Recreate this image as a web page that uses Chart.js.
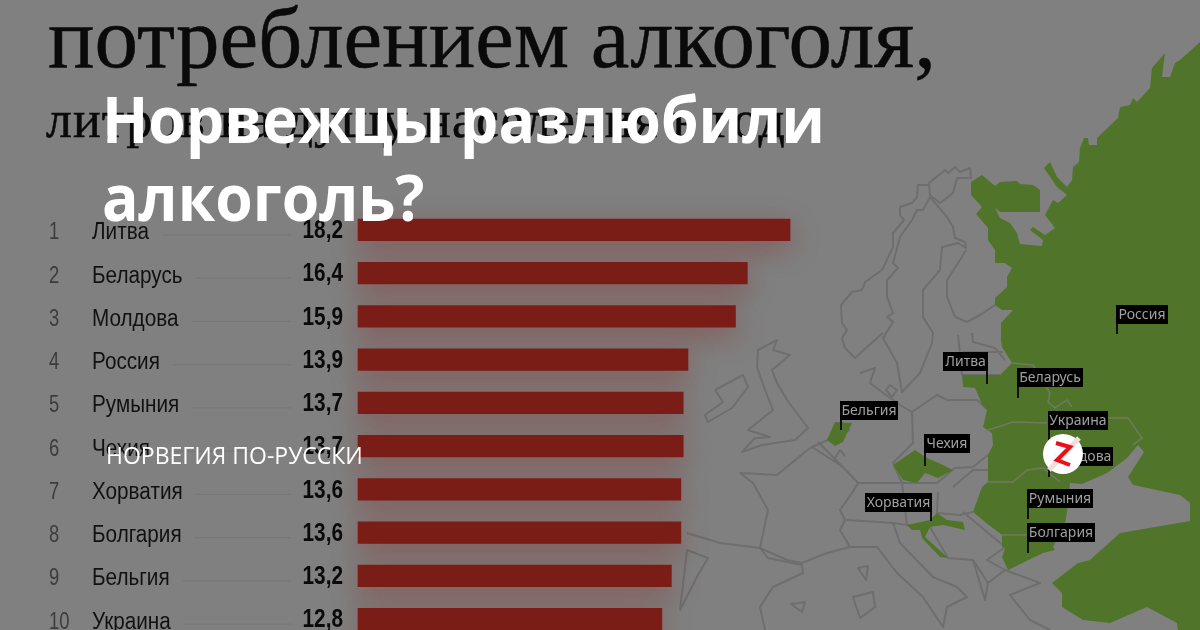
<!DOCTYPE html>
<html lang="ru">
<head>
<meta charset="utf-8">
<title>Норвежцы разлюбили алкоголь?</title>
<script src="https://cdn.jsdelivr.net/npm/chart.js@4"></script>
<style>
  html, body { margin: 0; padding: 0; background: #808080; }
  #stage { position: relative; width: 1200px; height: 630px; overflow: hidden; background: #808080; }
  #stage > * { position: absolute; }
  #map { left: 0; top: 0; }
  #grafico { left: 0; top: 0; }
  .fundo { font-family: "Liberation Serif", serif; color: #0a0a0a; white-space: nowrap; -webkit-text-stroke: 0.5px #0a0a0a; }
  .titulo { font-family: "Open Sans", sans-serif; font-weight: 700; font-size: 64px; line-height: 78px; color: #fff; white-space: nowrap; transform: scaleX(0.947); transform-origin: left top; }
  .marca { font-family: "Open Sans", sans-serif; font-size: 23px; line-height: 26px; color: #fff; white-space: nowrap; }
  .pin { background: #000; color: #a0a0a0; font: 14px/18px "Noto Sans", sans-serif; height: 19px; text-align: center; white-space: nowrap; }
  .pin::after { content: ""; position: absolute; top: 19px; width: 2px; background: #111; height: var(--haste); }
  .pin.esq::after { left: 0; }
  .pin.dir::after { right: 0; }
</style>
</head>
<body>
<div id="stage">
  <svg id="map" width="1200" height="630" viewBox="0 0 1200 630">
    <g fill="none" stroke="#6e6e6e" stroke-width="2" stroke-linejoin="round">
      <!-- Escandinávia -->
      <path d="M970 168L971 178L957 178L953 193L940 203L930 195L929 183L945 170L948 173L955 167L960 172Z"/>
      <path d="M929 185L918 185L917 197L912 203L900 207L900 215L904 220L893 233L893 247L882 270L865 282L862 290L852 292L841 305L842 323L847 330L842 338L845 348L855 358L867 347L883 333"/>
      <path d="M930 197L923 210L917 210L912 220L900 237L893 263L898 268L887 280L887 297L893 313L887 317L893 322L883 338L897 363L902 392L920 373L932 343L933 333L923 317L923 290L940 270L942 247L958 243L966 248L965 242L955 238L953 227L947 217L930 197"/>
      <path d="M966 250L960 260L947 280L947 297L955 317L967 322L980 315L995 305"/>
      <path d="M972 333L973 342L995 348L1005 360M958 335L962 375L1000 375M962 352L1003 352"/>
      <!-- Ilhas britânicas -->
      <path d="M758 350L777 340L773 350L790 355L772 370L777 383L787 400L808 428L795 440L762 445L742 452L755 438L770 437L748 430L773 410L765 390L757 367Z"/>
      <path d="M730 382L743 375L748 387L732 408L708 422L705 415L723 402L715 390Z"/>
      <!-- Europa continental -->
      <path d="M860 373L875 368L870 383L882 392L900 405L912 412L937 395L947 400L977 400L988 410"/>
      <path d="M890 385L897 390L892 397L886 390Z"/>
      <path d="M912 412L913 443L893 463L902 483L937 483L955 468L973 467L988 455M953 487L973 470L988 470M938 492L937 513L960 515L973 512"/>
      <path d="M740 473L777 475L805 452L812 447L843 467L858 483L852 493L840 510L845 520L840 530L850 547L827 553L802 563L787 560L760 548L768 510L753 483Z"/>
      <path d="M812 447L850 430M818 442L843 467M834 460L840 450L845 456"/>
      <path d="M687 533L720 543L760 548L768 558L802 565L803 573L773 587L760 607L765 630M680 610L698 575L708 558L687 550Z"/>
      <path d="M847 520L893 523L900 543L933 577L957 587L967 597L947 607L943 627L923 597L897 573L877 547L850 547"/>
      <path d="M858 483L902 483L907 525L893 523M907 525L930 527L948 558L973 560L988 583L985 600L973 560M963 512L1005 547L987 560L1005 570L988 583"/>
      <path d="M858 568L868 566L866 580ZM853 597L873 592L875 607L860 618ZM791 604L805 602L802 612Z"/>
      <path d="M1005 570L1040 583L1010 595L1030 620L1050 630"/>
    </g>
    <path fill="#50752a" d="M1200 42L1180 60L1175 63L1170 77L1162 77L1165 53L1152 68L1150 88L1137 102L1133 98L1130 105L1120 107L1118 118L1097 138L1097 145L1089 145L1088 138L1084 138L1080 148L1079 162L1073 167L1072 180L1067 187L1057 177L1050 162L1044 168L1057 187L1067 195L1058 203L1053 200L1045 215L1055 228L1045 235L1033 227L1030 230L1043 240L1042 246L1020 244L1017 233L1010 223L1000 218L995 208L1000 212L1040 212L1040 190L1033 185L1020 184L1017 181L1000 182L995 186L982 175L971 182L971 195L982 207L976 214L988 228L988 240L995 250L995 263L1005 263L1012 268L1007 277L1007 287L995 298L995 305L1002 310L1013 310L1001 323L1001 340L1002 347L1012 363L1000 375L962 375L963 387L975 388L982 404L987 410L983 427L992 433L993 445L988 455L988 482L982 487L973 512L985 522L1002 535L1002 547L1005 548L1002 557L1008 570L1043 553L1055 550L1053 547L1065 523L1067 512L1070 483L1082 484L1107 473L1127 458L1138 445L1144 452L1128 477L1133 485L1180 495L1190 503L1190 521L1120 533L1090 560L1078 563L1052 583L1062 593L1062 607L1083 620L1110 623L1147 607L1177 623L1178 630L1200 630Z"/>
    <path fill="#50752a" d="M827 440L835 422L852 423L843 442L835 446Z"/>
    <path fill="#50752a" d="M893 465L915 450L925 457L943 465L953 470L938 478L925 473L917 483L903 480Z"/>
    <path fill="#50752a" d="M907 525L930 520L937 513L947 520L963 522L965 530L943 525L930 527L925 537L948 558L940 557L922 538L920 530L912 530Z"/>
    <g fill="none" stroke="#6f7a60" stroke-width="1.5">
      <path d="M1012 363L1033 365L1050 393L1048 402L1055 408L1067 400L1072 407M988 430L1013 422L1047 423M1108 418L1128 418L1142 438L1133 445"/>
      <path d="M988 482L1013 482L1027 470L1043 468L1060 482M1002 535L1057 535"/>
    </g>
  </svg>

  <div class="fundo" style="left:48px;top:-12px;font-size:87px;line-height:100px;">потреблением алкоголя,</div>
  <div class="fundo" style="left:46px;top:90px;font-size:52px;line-height:60px;letter-spacing:1px;">литров на душу населения в год</div>

  <canvas id="grafico" width="1200" height="660"></canvas>

  <div class="pin dir" style="left:943px;top:352px;width:45px;--haste:13px;">Литва</div>
  <div class="pin esq" style="left:1017px;top:368px;width:66px;--haste:11px;">Беларусь</div>
  <div class="pin esq" style="left:840px;top:401px;width:58px;--haste:10px;">Бельгия</div>
  <div class="pin esq" style="left:924px;top:434px;width:46px;--haste:13px;">Чехия</div>
  <div class="pin esq" style="left:1048px;top:447px;width:65px;--haste:11px;">Молдова</div>
  <div class="pin esq" style="left:1048px;top:411px;width:60px;--haste:47px;">Украина</div>
  <div class="pin dir" style="left:865px;top:493px;width:67px;--haste:9px;">Хорватия</div>
  <div class="pin esq" style="left:1027px;top:489px;width:66px;--haste:11px;">Румыния</div>
  <div class="pin esq" style="left:1027px;top:523px;width:68px;--haste:11px;">Болгария</div>
  <div class="pin esq" style="left:1116px;top:305px;width:52px;--haste:10px;">Россия</div>

  <svg style="left:1043px;top:434px;" width="40" height="40" viewBox="0 0 40 40">
    <circle cx="20" cy="20" r="20" fill="#fff"/>
    <path d="M6 36L36 4" stroke="#f3dcdc" stroke-width="5"/>
    <path d="M13 9L27 13L14 26L27 31" fill="none" stroke="#e8101a" stroke-width="4"/>
  </svg>

  <div class="titulo" style="left:102px;top:80px;">Норвежцы разлюбили</div>
  <div class="titulo" style="left:102px;top:158px;">алкоголь?</div>
  <div class="marca" style="left:106px;top:442px;">НОРВЕГИЯ ПО-РУССКИ</div>
</div>

<script>
// ===== DADOS =====
const posicoes = [1, 2, 3, 4, 5, 6, 7, 8, 9, 10];
const paises = ['Литва', 'Беларусь', 'Молдова', 'Россия', 'Румыния', 'Чехия', 'Хорватия', 'Болгария', 'Бельгия', 'Украина'];
const litros = [18.2, 16.4, 15.9, 13.9, 13.7, 13.7, 13.6, 13.6, 13.2, 12.8];

const FONTE = '"Liberation Sans", sans-serif';

// Não há fonte condensada instalada: comprime o texto na horizontal
function textoEstreito(ctx, texto, x, y, alinhamento, fator) {
  ctx.save();
  ctx.translate(x, y);
  ctx.scale(fator, 1);
  ctx.textAlign = alinhamento;
  ctx.fillText(texto, 0, 0);
  ctx.restore();
  return ctx.measureText(texto).width * fator;
}

// Sombra avermelhada atrás das barras
const sombraBarras = {
  id: 'sombraBarras',
  beforeDatasetDraw(chart) {
    const ctx = chart.ctx;
    ctx.save();
    ctx.shadowColor = 'rgba(135,30,25,0.4)';
    ctx.shadowBlur = 28;
    ctx.shadowOffsetY = 8;
  },
  afterDatasetDraw(chart) {
    chart.ctx.restore();
  }
};

// Posição, nome do país, linha guia e valor à esquerda das barras
const colunasTabela = {
  id: 'colunasTabela',
  afterDatasetsDraw(chart) {
    const ctx = chart.ctx;
    const escalaY = chart.scales.y;
    ctx.save();
    ctx.textBaseline = 'middle';
    paises.forEach((pais, i) => {
      const y = escalaY.getPixelForValue(i);

      ctx.font = `23px ${FONTE}`;
      ctx.fillStyle = '#3c3c3c';
      textoEstreito(ctx, String(posicoes[i]), 49, y + 3, 'left', 0.8);

      ctx.fillStyle = '#111';
      const larguraNome = textoEstreito(ctx, escalaY.getLabelForValue(i), 92, y + 3, 'left', 0.9);

      ctx.strokeStyle = '#767676';
      ctx.lineWidth = 1;
      ctx.beginPath();
      ctx.moveTo(92 + larguraNome + 13, y + 5);
      ctx.lineTo(291, y + 5);
      ctx.stroke();

      ctx.font = `bold 26px ${FONTE}`;
      ctx.fillStyle = '#0a0a0a';
      textoEstreito(ctx, litros[i].toFixed(1).replace('.', ','), 343, y + 1, 'right', 0.8);
    });
    ctx.restore();
  }
};

new Chart(document.getElementById('grafico').getContext('2d'), {
  type: 'bar',
  data: {
    labels: paises,
    datasets: [{
      data: litros,
      backgroundColor: '#7b1d17',
      barThickness: 21.5,
      borderWidth: 0,
      clip: false
    }]
  },
  options: {
    indexAxis: 'y',
    responsive: false,
    animation: false,
    devicePixelRatio: 1,
    layout: { autoPadding: false, padding: { left: 92, right: 367.2, top: 208.3, bottom: 19.2 } },
    plugins: { legend: { display: false }, tooltip: { enabled: false }, title: { display: false } },
    scales: {
      x: { display: false, min: 0, max: 20 },
      y: {
        afterFit(escala) { escala.width = 266; },
        grid: { display: false, drawTicks: false },
        border: { display: false },
        ticks: { display: false }
      }
    }
  },
  plugins: [sombraBarras, colunasTabela]
});
</script>
</body>
</html>
